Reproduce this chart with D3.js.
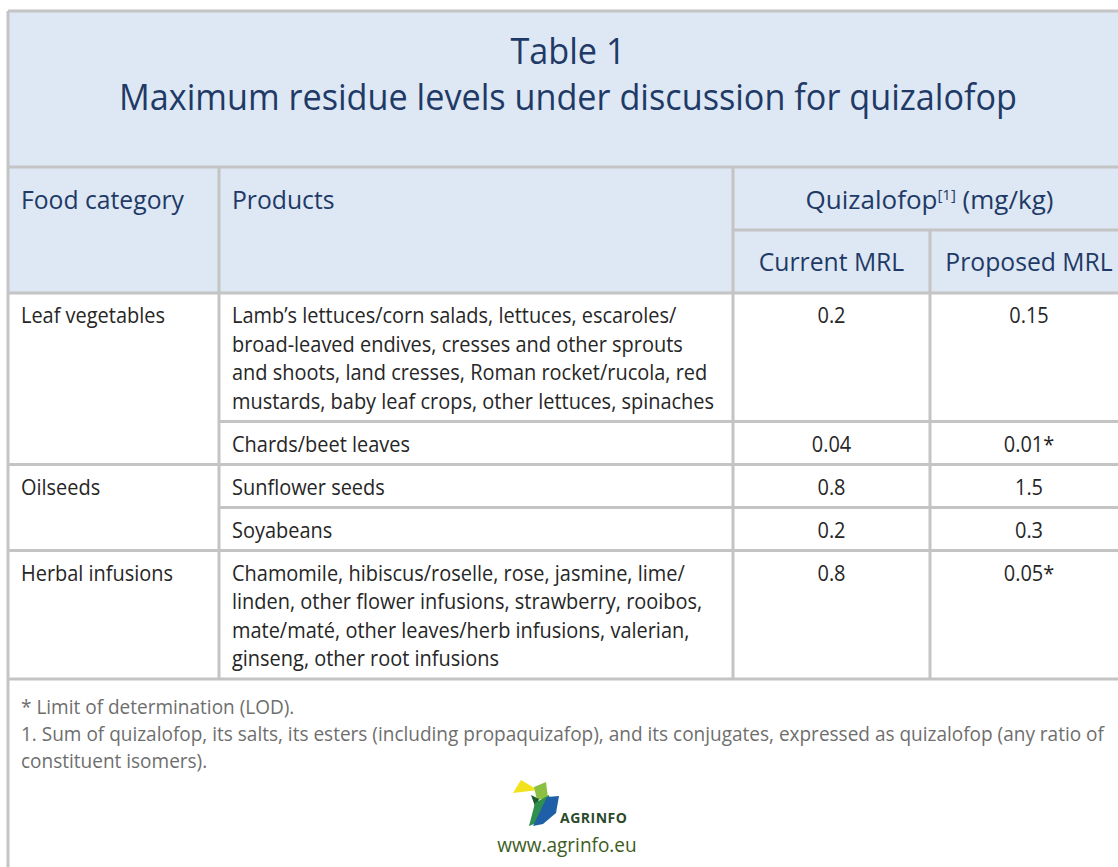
<!DOCTYPE html>
<html>
<head>
  <meta charset="utf-8">
  <title>Quizalofop MRL table</title>
  <script src="https://d3js.org/d3.v7.min.js"></script>
  <style>
    body { margin: 0; background: #fff; }
    svg text { font-family: "Open Sans", "Noto Sans", sans-serif; }
  </style>
</head>
<body>
  <div id="chart"></div>
  <script>
    // Table content
    const titleLines = ["Table 1", "Maximum residue levels under discussion for quizalofop"];
    const headers = ["Food category", "Products", "Quizalofop", "Current MRL", "Proposed MRL"];
    const categories = ["Leaf vegetables", "Oilseeds", "Herbal infusions"];
    const productCategory = [0, 0, 1, 1, 2];
    const products = [
      ["Lamb\u2019s lettuces/corn salads, lettuces, escaroles/",
       "broad-leaved endives, cresses and other sprouts",
       "and shoots, land cresses, Roman rocket/rucola, red",
       "mustards, baby leaf crops, other lettuces, spinaches"],
      ["Chards/beet leaves"],
      ["Sunflower seeds"],
      ["Soyabeans"],
      ["Chamomile, hibiscus/roselle, rose, jasmine, lime/",
       "linden, other flower infusions, strawberry, rooibos,",
       "mate/mat\u00e9, other leaves/herb infusions, valerian,",
       "ginseng, other root infusions"]
    ];
    const currentMRL = ["0.2", "0.04", "0.8", "0.2", "0.8"];
    const proposedMRL = ["0.15", "0.01*", "1.5", "0.3", "0.05*"];
    const footnotes = [
      "* Limit of determination (LOD).",
      "1. Sum of quizalofop, its salts, its esters (including propaquizafop), and its conjugates, expressed as quizalofop (any ratio of",
      "constituent isomers)."
    ];
    const website = "www.agrinfo.eu";

    const W = 1118, H = 867;
    const navy = "#1f3a66", grid = "#c4c4c4", headBg = "#dde8f4";
    const squeeze = 0.95;   // narrow the font a little, like the original typeface

    const svg = d3.select("#chart").append("svg")
      .attr("width", W).attr("height", H);

    // column edges
    const colX = d3.scaleOrdinal()
      .domain(["left", "cat", "prod", "cur", "prop", "right"])
      .range([8, 8, 219, 733, 930, 1128]);
    const colMid = k => {
      const order = colX.domain();
      return (colX(k) + colX(order[order.indexOf(k) + 1])) / 2;
    };

    const topY = 11, titleBottom = 167, headMid = 230, headBottom = 293;
    const lineH = 28.5, rowPad = 14.5, firstBase = 30;

    // row tops from the number of product lines
    const rowTops = [];
    let y = headBottom;
    products.forEach(p => { rowTops.push(y); y += p.length * lineH + rowPad; });
    const tableBottom = y;

    // backgrounds
    svg.append("rect").attr("x", colX("left")).attr("y", topY)
      .attr("width", colX("right") - colX("left")).attr("height", headBottom - topY)
      .attr("fill", headBg);

    const g = svg.append("g");
    const hline = (x1, x2, yy) => g.append("line").attr("x1", x1).attr("x2", x2)
      .attr("y1", yy).attr("y2", yy).attr("stroke", grid).attr("stroke-width", 3);
    const vline = (xx, y1, y2) => g.append("line").attr("x1", xx).attr("x2", xx)
      .attr("y1", y1).attr("y2", y2).attr("stroke", grid).attr("stroke-width", 3);

    // title
    svg.selectAll("text.title").data(titleLines).join("text")
      .attr("class", "title sq")
      .attr("x", (colX("left") + colX("right")) / 2)
      .attr("y", (d, i) => 64 + i * 46)
      .attr("text-anchor", "middle")
      .attr("font-size", 36).attr("fill", navy)
      .text(d => d);

    // header cells
    const head = svg.append("g").attr("fill", navy).attr("font-size", 26);
    head.append("text").attr("class", "sq").attr("x", 21).attr("y", 209).text(headers[0]);
    head.append("text").attr("class", "sq").attr("x", 232).attr("y", 209).text(headers[1]);
    const q = head.append("text").attr("x", colMid("cur") + 98).attr("y", 209).attr("text-anchor", "middle");
    q.append("tspan").text(headers[2]);
    q.append("tspan").attr("font-size", 15).attr("dy", -9).text("[1]");
    q.append("tspan").attr("dy", 9).text(" (mg/kg)");
    head.append("text").attr("class", "sq").attr("x", colMid("cur")).attr("y", 271)
      .attr("text-anchor", "middle").text(headers[3]);
    head.append("text").attr("class", "sq").attr("x", colMid("prop")).attr("y", 271)
      .attr("text-anchor", "middle").text(headers[4]);

    // body
    const body = svg.append("g").attr("fill", "#262626").attr("font-size", 21);
    categories.forEach((c, ci) => {
      const r = productCategory.indexOf(ci);
      body.append("text").attr("class", "sq").attr("x", 21).attr("y", rowTops[r] + firstBase).text(c);
    });
    products.forEach((lines, r) => {
      lines.forEach((t, li) => {
        body.append("text").attr("class", "sq").attr("x", 232)
          .attr("y", rowTops[r] + firstBase + li * lineH).text(t);
      });
      body.append("text").attr("class", "sq").attr("x", colMid("cur"))
        .attr("y", rowTops[r] + firstBase).attr("text-anchor", "middle").text(currentMRL[r]);
      body.append("text").attr("class", "sq").attr("x", colMid("prop"))
        .attr("y", rowTops[r] + firstBase).attr("text-anchor", "middle").text(proposedMRL[r]);
    });

    // footnotes
    svg.append("g").attr("fill", "#6e6e6e").attr("font-size", 20)
      .selectAll("text").data(footnotes).join("text")
      .attr("class", "sq").attr("x", 21).attr("y", (d, i) => 714 + i * 27).text(d => d);

    // grid lines
    hline(colX("left"), colX("right"), topY);
    hline(colX("left"), colX("right"), titleBottom);
    hline(colX("cur"), colX("right"), headMid);
    hline(colX("left"), colX("right"), headBottom);
    rowTops.slice(1).forEach((t, i) => {
      const r = i + 1;
      const newCat = productCategory[r] !== productCategory[r - 1];
      hline(newCat ? colX("left") : colX("prod"), colX("right"), t);
    });
    hline(colX("left"), colX("right"), tableBottom);
    vline(colX("left"), topY, H);
    vline(colX("prod"), titleBottom, tableBottom);
    vline(colX("cur"), titleBottom, tableBottom);
    vline(colX("prop"), headMid, tableBottom);
    vline(colX("right"), topY, H);

    // logo
    const logo = svg.append("g");
    const shapes = [
      { fill: "#f2e21c", pts: [[513, 793], [521, 780], [538, 790]] },
      { fill: "#8cc043", pts: [[534, 787], [546, 782], [548, 798], [537, 800]] },
      { fill: "#1d5b2e", pts: [[531, 795], [539, 799], [536, 809]] },
      { fill: "#2f8f4e", pts: [[535, 803], [549, 795], [552, 808], [539, 822], [529, 826]] },
      { fill: "#1f5fa8", pts: [[547, 797], [559, 796], [556, 813], [543, 824], [533, 826]] }
    ];
    logo.selectAll("path").data(shapes).join("path")
      .attr("d", d => d3.line()(d.pts) + "Z")
      .attr("fill", d => d.fill);
    logo.append("text").attr("x", 560).attr("y", 823)
      .attr("font-size", 14).attr("font-weight", "bold").attr("fill", "#2b4a2c")
      .attr("letter-spacing", 0.5).text("AGRINFO");
    svg.append("text").attr("class", "sq").attr("x", 567).attr("y", 852)
      .attr("text-anchor", "middle").attr("font-size", 20).attr("fill", "#3d5c1d")
      .text(website);

    // condense the wider installed font
    svg.selectAll("text.sq").each(function () {
      const len = this.getComputedTextLength();
      d3.select(this).attr("textLength", len * squeeze).attr("lengthAdjust", "spacingAndGlyphs");
    });
  </script>
</body>
</html>
